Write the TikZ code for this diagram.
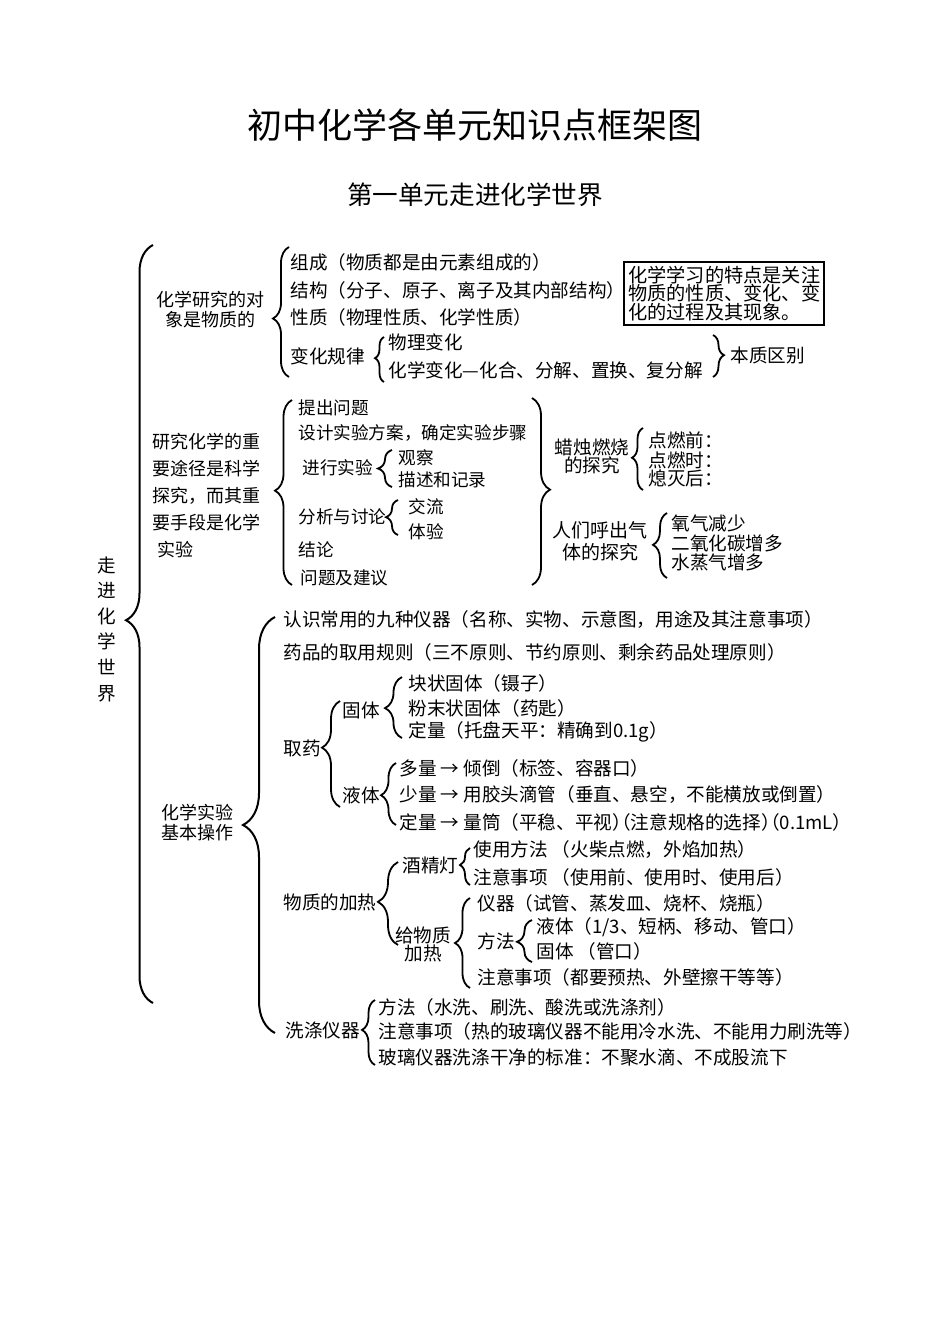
\documentclass[tikz,border=0pt]{standalone}
\usepackage{fontspec}
\setmainfont{Noto Sans CJK SC}
\usetikzlibrary{decorations.pathreplacing}
\tikzstyle{every node}=[anchor=west,inner sep=0pt,font=\fontsize{9.3}{11}\selectfont]
\tikzstyle{inq}=[font=\fontsize{8.8}{11}\selectfont]
\tikzstyle{curly}=[decorate,decoration={brace,amplitude=4.5pt},line width=0.9pt]
\tikzstyle{bigcurly}=[decorate,decoration={brace,amplitude=13.5pt},line width=1pt]
\tikzstyle{lbl}=[anchor=center,align=center]
\newcommand{\halfpar}{{\addfontfeature{RawFeature=+halt}）（}}
\begin{document}
\begin{tikzpicture}[x=0.5pt,y=-0.5pt]
\useasboundingbox (0,0) rectangle (950,1344);
\node[lbl,font=\fontsize{17.5}{20}\selectfont] (title) at (475,125) {初中化学各单元知识点框架图};
\node[lbl,font=\fontsize{12.8}{15}\selectfont] (unit) at (475,195) {第一单元走进化学世界};

% root
\node[lbl,font=\fontsize{9.3}{12.8}\selectfont] (root) at (107,629) {走\\进\\化\\学\\世\\界};
\draw[bigcurly,decoration={aspect=.505}] (153,1003) -- (153,245);

% object of study
\node[lbl,font=\fontsize{9}{10}\selectfont] (obj) at (210,310) {化学研究的对\\象是物质的};
\draw[curly,decoration={amplitude=8pt,aspect=.45}] (289,377) -- (289,247);
\node (zc) at (290,262) {组成（物质都是由元素组成的）};
\node (jg) at (290,290) {结构（分子、原子、离子及其内部结构）};
\node (xz) at (290,317) {性质（物理性质、化学性质）};
\node (bh) at (290,356) {变化规律};
\draw[curly,decoration={amplitude=4.5pt,aspect=.53}] (384,382) -- (384,337);
\node (wl) at (388,342) {物理变化};
\node (hx) at (388,370) {化学变化—化合、分解、置换、复分解};
\draw[curly,decoration={amplitude=5.5pt,aspect=.48}] (713,335) -- (713,377);
\node (bz) at (730,355) {本质区别};
\node[draw,line width=1.2pt,anchor=north west,inner sep=2pt,align=left,
      font=\fontsize{9.6}{9.2}\selectfont] (note) at (623,261)
      {化学学习的特点是关注\\物质的性质、变化、变\\化的过程及其现象。};

% scientific inquiry
\node[align=left,font=\fontsize{9}{13.5}\selectfont] (way) at (152,496)
      {研究化学的重\\要途径是科学\\探究，而其重\\要手段是化学\\\hspace{2.5pt}实验};
\draw[curly,decoration={amplitude=8.5pt,aspect=.51}] (292,585) -- (292,400);
\node[inq] (tc) at (298,408) {提出问题};
\node[inq] (sj) at (298,433) {设计实验方案，确定实验步骤};
\node[inq] (jx) at (302,468) {进行实验};
\draw[curly,decoration={amplitude=7pt,aspect=.5}] (392,487) -- (392,450);
\node[inq] (gc) at (398,458) {观察};
\node[inq] (ms) at (398,480) {描述和记录};
\node[inq] (fx) at (298,517) {分析与讨论};
\draw[curly,decoration={amplitude=6pt,aspect=.51}] (398,535) -- (398,500);
\node[inq] (jl) at (408,507) {交流};
\node[inq] (ty) at (408,532) {体验};
\node[inq] (jlun) at (298,550) {结论};
\node[inq] (wt) at (300,578) {问题及建议};
\draw[curly,decoration={amplitude=9pt,aspect=.49}] (532,398) -- (532,585);
\node[lbl,font=\fontsize{9.3}{9}\selectfont] (lz) at (592,456) {蜡烛燃烧\\的探究};
\draw[curly,decoration={amplitude=5.5pt,aspect=.52}] (643,490) -- (643,428);
\node (dq) at (648,440) {点燃前：};
\node (ds) at (648,460) {点燃时：};
\node (xm) at (648,478) {熄灭后：};
\node[lbl,font=\fontsize{9.5}{11}\selectfont] (hq) at (600,541) {人们呼出气\\体的探究};
\draw[curly,decoration={amplitude=7pt,aspect=.51}] (667,578) -- (667,513);
\node (yq) at (671,523) {氧气减少};
\node (eyh) at (671,543) {二氧化碳增多};
\node (szq) at (671,562) {水蒸气增多};

% basic operations
\node[lbl,font=\fontsize{9}{10}\selectfont] (op) at (197,823) {化学实验\\基本操作};
\draw[bigcurly,decoration={amplitude=16pt,aspect=.5}] (275,1033) -- (275,617);
\node (rs) at (283,620) {认识常用的九种仪器（名称、实物、示意图，用途及其注意事项）};
\node (yp) at (283,652) {药品的取用规则（三不原则、节约原则、剩余药品处理原则）};
\node (qy) at (283,748) {取药};
\draw[curly,decoration={amplitude=9pt,aspect=.56}] (340,807) -- (340,701);
\node (gt) at (342,710) {固体};
\draw[curly,decoration={amplitude=8.5pt,aspect=.49}] (402,738) -- (402,677);
\node (kz) at (408,683) {块状固体（镊子）};
\node (fm) at (408,708) {粉末状固体（药匙）};
\node (dl) at (408,732) {定量（托盘天平：精确到0.1g）};
\node (yt) at (342,795) {液体};
\draw[curly,decoration={amplitude=7.5pt,aspect=.48}] (396,825) -- (396,763);
\node (dlg) at (399,768) {多量 → 倾倒（标签、容器口）};
\node (sl) at (399,795) {少量 → 用胶头滴管（垂直、悬空，不能横放或倒置）};
\node (dlt) at (399,822) {定量 → 量筒（平稳、平视\halfpar 注意规格的选择\halfpar 0.1mL）};
\node (jr) at (283,902) {物质的加热};
\draw[curly,decoration={amplitude=10pt,aspect=.52}] (398,945) -- (398,862);
\node (jjd) at (402,865) {酒精灯};
\draw[curly,decoration={amplitude=5pt,aspect=.54}] (470,885) -- (470,848);
\node (syff) at (473,850) {使用方法 （火柴点燃，外焰加热）};
\node (zysx) at (473,877) {注意事项 （使用前、使用时、使用后）};
\node[lbl,font=\fontsize{9.3}{9}\selectfont] (gwz) at (423,944) {给物质\\加热};
\draw[curly,decoration={amplitude=7.5pt,aspect=.5}] (470,988) -- (470,898);
\node (yqi) at (477,903) {仪器（试管、蒸发皿、烧杯、烧瓶）};
\node (ff) at (477,941) {方法};
\draw[curly,decoration={amplitude=7.5pt,aspect=.48}] (532,962) -- (532,920);
\node (ytj) at (536,927) {液体（1/3、短柄、移动、管口）};
\node (gtj) at (536,951) {固体 （管口）};
\node (zyj) at (477,977) {注意事项（都要预热、外壁擦干等等）};
\node (xd) at (285,1030) {洗涤仪器};
\draw[curly,decoration={amplitude=6.5pt,aspect=.54}] (375,1065) -- (375,1000);
\node (xff) at (378,1007) {方法（水洗、刷洗、酸洗或洗涤剂）};
\node (xzy) at (378,1031) {注意事项（热的玻璃仪器不能用冷水洗、不能用力刷洗等）};
\node (xbz) at (378,1057) {玻璃仪器洗涤干净的标准：不聚水滴、不成股流下};
\end{tikzpicture}
\end{document}
